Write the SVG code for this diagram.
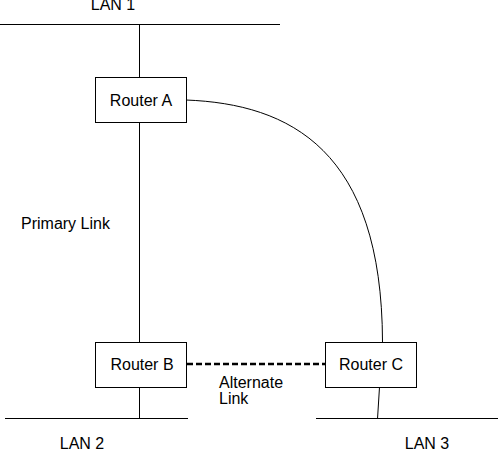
<svg xmlns="http://www.w3.org/2000/svg" width="500" height="450" viewBox="0 0 500 450">
<style>
.ln{stroke:#000;stroke-width:1;fill:none}
.box{fill:#fff;stroke:#000;stroke-width:1}
.t{font-family:"Liberation Sans",Arial,sans-serif;font-size:16px;fill:#000}
.dash{stroke:#000;stroke-width:2.5;stroke-dasharray:6 3;fill:none}
</style>
<rect width="500" height="450" fill="#fff"/>
<g id="lans">
<line class="ln" x1="0" y1="24.5" x2="280" y2="24.5"/>
<line class="ln" x1="5" y1="418.5" x2="188" y2="418.5"/>
<line class="ln" x1="316" y1="418.5" x2="498" y2="418.5"/>
<text class="t" x="113" y="10" text-anchor="middle">LAN 1</text>
<text class="t" x="82" y="449" text-anchor="middle">LAN 2</text>
<text class="t" x="427" y="449" text-anchor="middle">LAN 3</text>
</g>
<g id="connectors">
<line class="ln" x1="139.5" y1="24" x2="139.5" y2="77"/>
<line class="ln" x1="139.5" y1="122" x2="139.5" y2="342"/>
<line class="ln" x1="139.5" y1="387" x2="139.5" y2="419"/>
<path class="ln" d="M186,100 C290,104 382,150 382.5,342"/>
<line class="ln" x1="379.5" y1="387" x2="377.5" y2="419"/>
<line class="dash" x1="187" y1="364" x2="325" y2="364"/>
<text class="t" x="21" y="229">Primary Link</text>
<text class="t" x="219" y="388">Alternate</text>
<text class="t" x="219" y="404">Link</text>
</g>
<g id="routerA">
<rect class="box" x="95.5" y="77.5" width="91" height="45"/>
<text class="t" x="141" y="106" text-anchor="middle">Router A</text>
</g>
<g id="routerB">
<rect class="box" x="95.5" y="342.5" width="91" height="45"/>
<text class="t" x="142" y="370" text-anchor="middle">Router B</text>
</g>
<g id="routerC">
<rect class="box" x="325.5" y="342.5" width="91" height="45"/>
<text class="t" x="371" y="370" text-anchor="middle">Router C</text>
</g>
</svg>
